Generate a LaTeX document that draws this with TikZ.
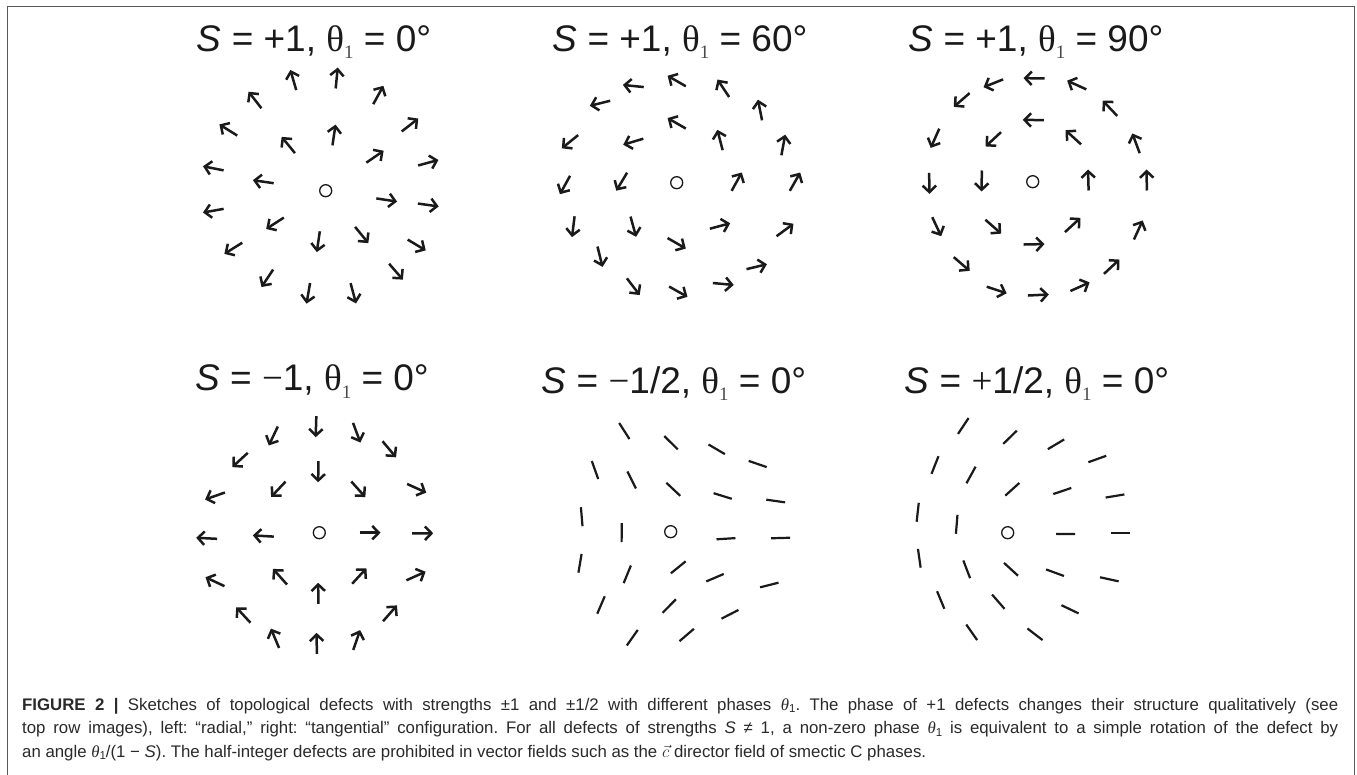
\documentclass[tikz,border=0pt]{standalone}
\usepackage{fontspec}
\setmainfont{Liberation Sans}
\newfontfamily\serif{Liberation Serif}
\usetikzlibrary{arrows.meta}
\frenchspacing
\definecolor{ink}{HTML}{1A1A1A}
\definecolor{framec}{HTML}{5A5A5A}
\definecolor{subc}{HTML}{4A4A4A}
\definecolor{capc}{HTML}{2A2A2A}
\tikzset{
  arr/.style={line width=2.5pt, draw=ink, -{Straight Barb[length=6.5pt,width=13.5pt,line width=2.5pt]}},
  bar/.style={line width=2.2pt, draw=ink},
  core/.style={circle, draw=ink, line width=1.3pt, minimum size=12pt, inner sep=0pt},
  ttl/.style={anchor=base, text=ink, inner sep=0pt, font=\fontsize{37}{40}\selectfont},
  capl/.style={anchor=base west, text=capc, inner sep=0pt, font=\fontsize{16.8}{20}\selectfont},
  framel/.style={draw=framec, line width=1.5pt},
}
\newcommand\ttltext[2]{\textit{S} = #1, {\serif θ}\raisebox{-7pt}{\color{subc}\serif\fontsize{19}{20}\selectfont 1} = #2}
\newcommand\thone{{\serif\itshape θ}\raisebox{-2.5pt}{\fontsize{11.5}{12}\selectfont 1}}
\newcommand\arrfield[5]{%
  \foreach \px/\py in {#5}{%
    \pgfmathsetmacro\ang{#3*atan2(#2-\py,\px-#1)+#4}%
    \draw[arr] ([shift={(\ang+180:10.5pt)}]\px,\py) -- ([shift={(\ang:10.5pt)}]\px,\py);
  }}
\newcommand\barfield[4]{%
  \foreach \px/\py in {#4}{%
    \pgfmathsetmacro\ang{#3*atan2(#2-\py,\px-#1)}%
    \draw[bar] ([shift={(\ang+180:9.5pt)}]\px,\py) -- ([shift={(\ang:9.5pt)}]\px,\py);
  }}
\begin{document}
\begin{tikzpicture}[x=1pt,y=-1pt]
\useasboundingbox (0,0) rectangle (1357,775);
\fill[white] (0,0) rectangle (1357,775);
\draw[framel] (7.5,775) -- (7.5,6.5) -- (1354.5,6.5) -- (1354.5,775);

% titles
\node[ttl] (t1) at (314,52) {\ttltext{+1}{0°}};
\node[ttl] (t2) at (680,52) {\ttltext{+1}{60°}};
\node[ttl] (t3) at (1036,52) {\ttltext{+1}{90°}};
\node[ttl] (t4) at (312,391) {\ttltext{{\serif −}1}{0°}};
\node[ttl] (t5) at (674,393) {\ttltext{{\serif −}1/2}{0°}};
\node[ttl] (t6) at (1037,393) {\ttltext{{\serif +}1/2}{0°}};

% cores
\node[core] (c1) at (325.7,190.7) {};
\node[core] (c2) at (676.7,182.7) {};
\node[core] (c3) at (1032.7,181.7) {};
\node[core] (c4) at (319.3,532.7) {};
\node[core] (c5) at (670.7,531.7) {};
\node[core] (c6) at (1007.7,532.7) {};

% S=+1, theta=0
\arrfield{325.7}{190.7}{1}{0}{293.3/80, 336.7/78, 378.3/95, 255/100, 410/125, 228.3/130, 334/135, 288.3/145, 375/156.7, 428.3/162.7, 213.3/168.3, 263.3/181.7, 386.7/200, 428.3/205, 213.3/210.7, 275/223.3, 318.3/241.7, 361.7/235, 416.7/245, 233.3/248.3, 396/271.7, 267.3/278.3, 308.3/293.3, 353.3/293.3}
% S=+1, theta=60
\arrfield{676.7}{182.7}{1}{60}{633.3/86, 676.7/81, 723.3/88.3, 600/103.3, 760/110, 676.7/123.3, 570/141.7, 633.3/141.7, 720/140, 783.3/145, 565/185, 621.7/181.7, 736.7/181.7, 795/181.7, 573.3/226.7, 633.3/226.7, 720/226, 785/230, 676.7/243.3, 600/256.7, 756.7/266.7, 633.3/286.7, 678.3/291.7, 723.3/284}
% S=+1, theta=90
\arrfield{1032.7}{181.7}{1}{90}{993.3/83.3, 1034/78.3, 1076.7/85, 961.7/100, 1110/108.3, 1033.3/120, 935/138.3, 993.3/139.3, 1073.3/137.3, 1136/143.3, 929.3/183.3, 981.7/181, 1088.3/180, 1146.7/180, 936.7/226.7, 993.3/226.7, 1072.7/225, 1138.3/230, 1034/244.3, 961.7/264, 1111.7/266.7, 996.7/290, 1038.3/295, 1080/286.7}
% S=-1, theta=0
\arrfield{319.3}{532.7}{-1}{0}{273.3/436, 316/426.7, 356.7/432.7, 389.3/449.3, 240/460, 318.3/471.7, 278.3/489.3, 358.3/489.3, 416.7/488.3, 215/496, 206.7/538.3, 263.3/536, 370/532.7, 422.7/533.3, 215/581.7, 280/576.7, 359.3/576, 416/576, 318.3/593.3, 243.3/615, 390/613.3, 275/638.3, 316.7/643.3, 356.7/640}
% S=-1/2
\barfield{670.7}{531.7}{-0.5}{624.3/431, 671/442.7, 716.7/449.3, 757.7/464, 595/470, 631.7/480, 673.3/489.3, 722.7/496, 775.7/501, 581.7/516.7, 621.7/532.7, 726/538.7, 780.7/538, 580/563.3, 627.3/574.3, 678.3/567.3, 715/577.7, 769.3/585, 601/605, 669.3/606, 730/614.3, 632.3/637.7, 686.7/635}
% S=+1/2
\barfield{1007.7}{532.7}{0.5}{963.3/426, 1010/437.3, 1056/444.3, 1097.3/459, 935/465, 971/475, 1012.3/489.3, 1062.3/491, 1115/496, 917.7/512.3, 956.7/524.3, 1065.7/534, 1120/532.7, 919.3/558.3, 966.7/569.3, 1011/569.3, 1055/572.7, 1109.3/579.3, 940.7/600, 998.3/601.7, 1070/609.3, 971.7/632.3, 1035/634.3}

% caption
\node[capl] (cap1) at (22,710) {\makebox[1316pt][s]{\textbf{FIGURE 2 |} Sketches of topological defects with strengths ±1 and ±1/2 with different phases \thone. The phase of +1 defects changes their structure qualitatively (see}};
\node[capl] (cap2) at (22,733.5) {\makebox[1316pt][s]{top row images), left: “radial,” right: “tangential” configuration. For all defects of strengths \textit{S} ≠ 1, a non-zero phase \thone{} is equivalent to a simple rotation of the defect by}};
\node[capl] (cap3) at (22,757) {an angle \thone/(1 − \textit{S}). The half-integer defects are prohibited in vector fields such as the $\vec{c}$ director field of smectic C phases.};
\end{tikzpicture}
\end{document}
